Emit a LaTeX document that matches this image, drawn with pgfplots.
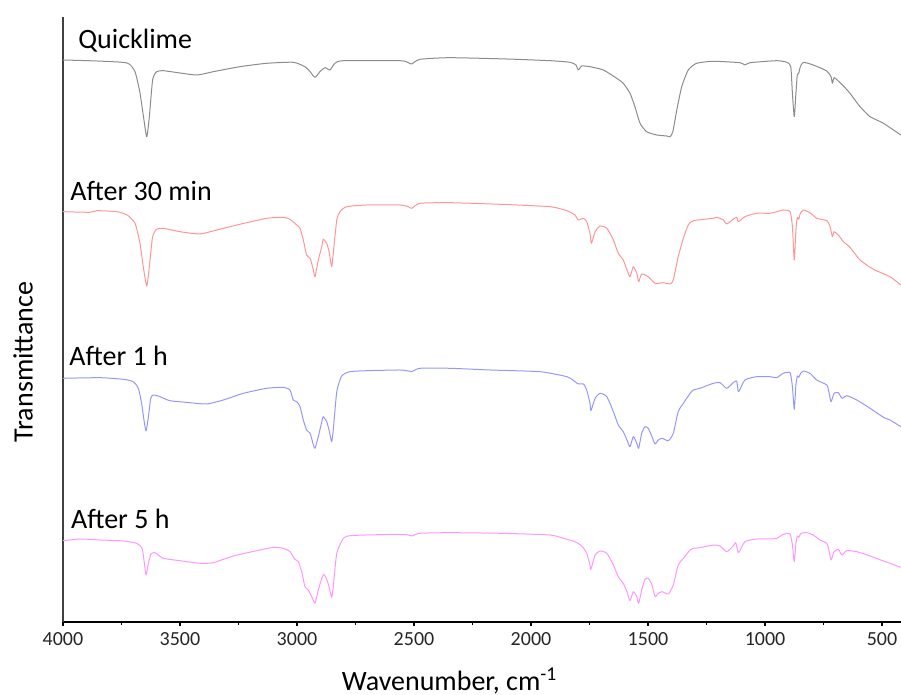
\documentclass[border=0pt]{standalone}
\usepackage{pgfplots}
\pgfplotsset{compat=1.18}
\usepackage{fontspec}
\setmainfont{Carlito}
\definecolor{cgray}{RGB}{140,140,140}
\definecolor{cred}{RGB}{255,150,150}
\definecolor{cblue}{RGB}{150,150,255}
\definecolor{cpink}{RGB}{255,150,255}
\begin{document}
\begin{tikzpicture}
\begin{axis}[
  scale only axis,
  width=419pt, height=302.5pt,
  x dir=reverse,
  xmin=419, xmax=4000,
  ymin=73, ymax=678,
  clip=false,
  axis x line=bottom, axis y line=left,
  x axis line style={-, line width=0.6pt, black},
  y axis line style={-, line width=1pt, black!75},
  ytick=\empty,
  xtick={500,1000,1500,2000,2500,3000,3500,4000},
  minor x tick num=1,
  tick align=outside,
  major tick length=2pt, minor tick length=1.5pt,
  every tick/.style={black, line width=0.6pt},
  /pgf/number format/1000 sep={},
  /pgf/number format/assume math mode=true,
  xticklabel style={font=\fontsize{10}{12}\selectfont, text=black!85, inner sep=1pt, yshift=-2pt},
  every axis plot/.append style={line width=0.5pt, line join=round, smooth, tension=0.35},
]
\coordinate (SW) at (rel axis cs:0,0);
\coordinate (NE) at (rel axis cs:1,1);
% Quicklime
\addplot[cgray] coordinates {
(4000,635) (3855,634) (3726,632) (3692,623) (3671,602) (3654,575) (3642,558.3) (3631,578) (3617,615) (3600,623.3)
(3571,624.3) (3500,622) (3427,620) (3358,623.3) (3244,628.3) (3129,631.7) (3016,632.7) (2966,628.3) (2944,623.3)
(2923,617.7) (2902,623.3) (2880,627.3) (2859,625) (2838,631.7) (2802,634.3) (2560,634.3) (2524,632.3) (2510,631)
(2474,635.7) (2346,637.3) (2104,636) (1919,634.3) (1833,632.7) (1808,630) (1798,625) (1783,629) (1748,628.3)
(1691,625) (1634,616.7) (1606,611.7) (1577,601.7) (1556,588.3) (1534,571.7) (1506,563.3) (1463,560) (1420,559)
(1406,558.3) (1394,563.3) (1377,585) (1356,608.3) (1328,625) (1292,631.7) (1221,633.7) (1107,632.3) (1086,630)
(1064,632.3) (950,634.3) (907,632.7) (890,628.3) (883,601.7) (875,578.3) (868,601.7) (862,620) (856,621.7)
(849,628.3) (836,632.7) (794,630) (736,624) (718,618.3) (712,611.7) (705,617.3) (687,614) (665,609) (637,601.7)
(594,588.3) (551,578.3) (494,571.7) (420,560)
};
% After 30 min
\addplot[cred] coordinates {
(4000,483.3) (3885,482.7) (3855,484.3) (3769,483.3) (3726,480) (3692,471.7) (3671,451.7) (3657,428.3) (3642,409)
(3631,428.3) (3617,458.3) (3600,465.7) (3571,466.7) (3500,463.3) (3415,461) (3343,465) (3244,470.7) (3129,476.7)
(3059,477.7) (3030,475.7) (3001,470) (2987,466.7) (2973,455) (2959,440) (2944,436.7) (2930,425) (2923,418.3)
(2909,435) (2894,448.3) (2888,455.7) (2873,451.7) (2863,443.3) (2852,428.3) (2845,441.7) (2830,475) (2816,483.3)
(2788,488.3) (2702,490) (2560,490) (2524,488.3) (2510,486.7) (2474,491.7) (2346,492.3) (2132,490.7) (1919,488.3)
(1847,484.3) (1812,480) (1798,475) (1776,476.7) (1762,473.3) (1748,461.7) (1742,451.7) (1726,463.3) (1705,469)
(1676,466.7) (1648,455) (1627,441.7) (1606,435) (1590,425) (1577,418.3) (1563,428.3) (1548,421.7) (1540,413.3)
(1527,421) (1499,418.3) (1470,411.7) (1435,412.3) (1406,411) (1392,415) (1371,438.3) (1349,456.7) (1328,470)
(1306,474.3) (1221,476.7) (1206,477.7) (1178,475) (1164,471) (1136,475.7) (1121,477.7) (1113,473.3) (1086,478.3)
(1036,481.7) (979,481.7) (950,483.3) (922,485) (893,483.3) (883,468.3) (875,435) (868,465) (862,477.7) (856,475.7)
(849,481.7) (836,485) (808,482.3) (779,476.7) (736,474.3) (722,468.3) (712,458.3) (705,463.3) (687,460) (665,453.3)
(637,447.7) (594,435) (537,425.7) (466,418.3) (420,410)
};
% After 1 h
\addplot[cblue] coordinates {
(4000,316.7) (3842,317.3) (3742,315.7) (3700,313.3) (3678,306.7) (3664,291.7) (3654,275) (3645,264) (3635,278.3)
(3625,296.7) (3614,300) (3585,298.3) (3543,294.3) (3457,292.3) (3386,291) (3315,295) (3229,301.7) (3129,306.7)
(3059,307.7) (3030,305) (3016,295) (3001,293.3) (2987,288.3) (2973,275) (2959,265) (2944,261.7) (2930,250)
(2923,246.7) (2909,258.3) (2894,273.3) (2888,278.3) (2873,273.3) (2863,265) (2852,253.3) (2845,265) (2830,303.3)
(2809,319) (2774,323.3) (2702,324.3) (2560,325) (2524,324) (2510,323.3) (2474,326.7) (2346,326.7) (2175,325)
(1962,323.3) (1847,318.3) (1812,313.3) (1798,311) (1776,311) (1762,305) (1748,291.7) (1744,284.3) (1726,296.7)
(1705,301.7) (1676,298.3) (1648,283.3) (1627,270) (1606,263.3) (1590,255) (1577,248.3) (1563,258.3) (1548,251.7)
(1540,246.7) (1527,261.7) (1513,268.3) (1499,266.7) (1483,258.3) (1470,251) (1456,255) (1440,256.7) (1413,254.3)
(1392,261.7) (1371,283.3) (1349,291.7) (1320,301.7) (1306,305) (1278,306.7) (1221,311.7) (1192,312.3) (1164,306.7)
(1136,312.3) (1121,314) (1113,303.3) (1086,315) (1036,318.3) (979,318.3) (950,317.3) (922,321.7) (893,322.3)
(883,308.3) (875,285.7) (868,310) (862,319) (856,317.7) (846,322.3) (836,324) (808,321.7) (779,315) (736,310)
(727,303) (718,293.3) (705,301.7) (687,302.3) (671,296.7) (651,299.3) (608,295) (551,286.7) (494,277.7) (466,275)
(420,268.3)
};
% After 5 h
\addplot[cpink] coordinates {
(4000,154.3) (3927,156) (3842,155) (3742,154) (3685,151.7) (3662,146.7) (3654,135) (3645,120) (3635,131.7)
(3624,141) (3607,142.3) (3571,136.7) (3500,134.3) (3415,131.7) (3358,132.3) (3272,139) (3172,144.3) (3101,147.7)
(3059,146.7) (3030,143.3) (3009,135.7) (2994,133.3) (2980,123.3) (2966,108.3) (2952,105) (2937,98.3) (2923,91.7)
(2909,105) (2894,116.7) (2885,120.7) (2872,115) (2863,108.3) (2852,97.7) (2845,108.3) (2830,141.7) (2802,156.7)
(2774,159.3) (2702,160) (2560,160.7) (2524,160) (2510,159) (2474,161.7) (2346,162.3) (2132,161.7) (1919,160)
(1847,155.7) (1812,153.3) (1783,149) (1762,141.7) (1748,130) (1744,125.7) (1726,140) (1705,144) (1676,141.7)
(1648,130) (1627,118.3) (1606,111.7) (1590,103.3) (1577,94.3) (1563,103.3) (1548,98.3) (1540,91.7) (1527,105)
(1513,115.7) (1499,116.7) (1483,110) (1470,98.3) (1456,101.7) (1440,103.3) (1413,101) (1392,110) (1371,130)
(1349,136.7) (1320,145) (1306,146.7) (1278,147.3) (1221,150) (1192,149) (1164,143.3) (1136,149) (1125,152.3)
(1113,142.3) (1086,153.3) (1036,156) (979,156) (950,156.7) (922,160.7) (893,161) (883,150) (875,133.3) (868,151.7)
(862,159) (856,157.7) (846,161.7) (822,162.3) (794,160) (765,155) (736,151.7) (727,145) (718,135) (705,143.3)
(687,145.7) (671,140) (651,144.3) (608,143.3) (551,139) (494,134) (466,131.7) (420,127.7)
};
\node[anchor=base west, inner sep=0pt, font=\fontsize{14}{16}\selectfont] at (axis cs:3936,646) {Quicklime};
\node[anchor=base west, inner sep=0pt, font=\fontsize{14}{16}\selectfont] at (axis cs:3970,494.3) {After 30 min};
\node[anchor=base west, inner sep=0pt, font=\fontsize{14}{16}\selectfont] at (axis cs:3974,329) {After 1 h};
\node[anchor=base west, inner sep=0pt, font=\fontsize{14}{16}\selectfont] at (axis cs:3967,166) {After 5 h};
\node[rotate=90, inner sep=0pt, font=\fontsize{14}{16}\selectfont] at (axis cs:4171,333) {Transmittance};
\node[anchor=base, inner sep=0pt, font=\fontsize{14}{16}\selectfont] at (axis cs:2348,4) {Wavenumber, cm\textsuperscript{-1}};
\end{axis}
\pgfresetboundingbox
\path[use as bounding box] ([xshift=-31.5pt,yshift=-36.5pt]SW) rectangle ([yshift=8.5pt]NE);
\end{tikzpicture}
\end{document}
